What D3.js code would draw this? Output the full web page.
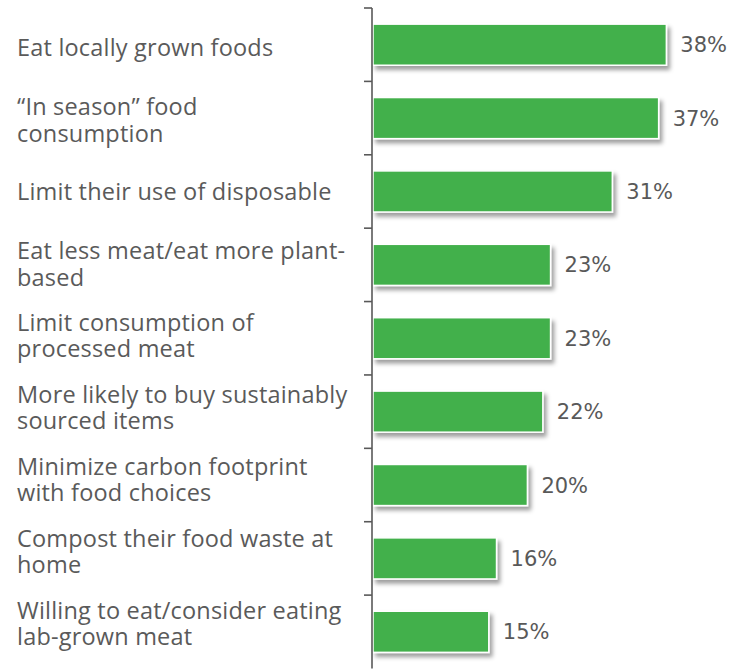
<!DOCTYPE html>
<html>
<head>
<meta charset="utf-8">
<script src="https://cdn.jsdelivr.net/npm/d3@7"></script>
<style>
  html, body { margin: 0; padding: 0; background: #fff; }
  svg { display: block; }
</style>
</head>
<body>
<svg id="chart" width="733" height="669"></svg>
<script>
// Share of consumers taking each sustainable-food action (%)
const categories = [
  "Eat locally grown foods",
  "\u201cIn season\u201d food\nconsumption",
  "Limit their use of disposable",
  "Eat less meat/eat more plant-\nbased",
  "Limit consumption of\nprocessed meat",
  "More likely to buy sustainably\nsourced items",
  "Minimize carbon footprint\nwith food choices",
  "Compost their food waste at\nhome",
  "Willing to eat/consider eating\nlab-grown meat"
];
const values = [38, 37, 31, 23, 23, 22, 20, 16, 15];
const valueLabels = ["38%", "37%", "31%", "23%", "23%", "22%", "20%", "16%", "15%"];

const svg = d3.select("#chart");
const axisX = 372;
const plotTop = 8, plotBottom = 668.5;

const x = d3.scaleLinear().domain([0, 40]).range([axisX + 1, axisX + 1 + 7.72 * 40]);
const y = d3.scaleBand().domain(categories).range([plotTop, plotBottom])
  .paddingInner(0.44).paddingOuter(0.22);
// category text rows sit on a slightly tighter pitch than the bars
const yLabel = d3.scaleBand().domain(categories).range([plotTop, plotBottom - 13]);

const defs = svg.append("defs");
const f = defs.append("filter").attr("id", "shadow")
  .attr("x", "-10%").attr("y", "-30%").attr("width", "130%").attr("height", "190%");
f.append("feDropShadow").attr("dx", 3).attr("dy", 4).attr("stdDeviation", 2.2)
  .attr("flood-color", "#000").attr("flood-opacity", 0.38);

// bars
svg.append("g").selectAll("rect").data(values).join("rect")
  .attr("x", x(0))
  .attr("y", (d, i) => y(categories[i]))
  .attr("width", d => x(d) - x(0))
  .attr("height", y.bandwidth())
  .attr("fill", "#43b04b")
  .attr("stroke", "#ffffff")
  .attr("stroke-width", 1.5)
  .attr("filter", "url(#shadow)");

// category axis with tick marks between bands
const tickYs = categories.map(c => y(c) - y.step() * y.paddingInner() / 2);
const axisG = svg.append("g");
axisG.append("line")
  .attr("x1", axisX).attr("x2", axisX)
  .attr("y1", plotTop).attr("y2", plotBottom)
  .attr("stroke", "#595959").attr("stroke-width", 1.6);
axisG.selectAll("line.tick").data(tickYs).join("line")
  .attr("class", "tick")
  .attr("x1", axisX - 8).attr("x2", axisX)
  .attr("y1", d => d).attr("y2", d => d)
  .attr("stroke", "#595959").attr("stroke-width", 1.6);

// category labels
const lineH = 26.5;
const labels = svg.append("g")
  .attr("font-family", "'Open Sans', sans-serif")
  .attr("font-size", 23.5)
  .attr("letter-spacing", 0.2)
  .attr("fill", "#5a5a5a");
categories.forEach(c => {
  const lines = c.split("\n");
  const cy = yLabel(c) + yLabel.bandwidth() / 2 + 4;
  const t = labels.append("text").attr("x", 17);
  lines.forEach((ln, j) => {
    t.append("tspan")
      .attr("x", 17)
      .attr("y", cy + (j - (lines.length - 1) / 2) * lineH)
      .attr("dy", "0.36em")
      .text(ln);
  });
});

// value labels
svg.append("g").selectAll("text").data(values).join("text")
  .attr("x", d => x(d) + 14)
  .attr("y", (d, i) => y(categories[i]) + y.bandwidth() / 2)
  .attr("dy", "0.36em")
  .attr("font-family", "'DejaVu Sans', Verdana, sans-serif")
  .attr("font-size", 21)
  .attr("fill", "#595959")
  .text((d, i) => valueLabels[i]);
</script>
</body>
</html>
